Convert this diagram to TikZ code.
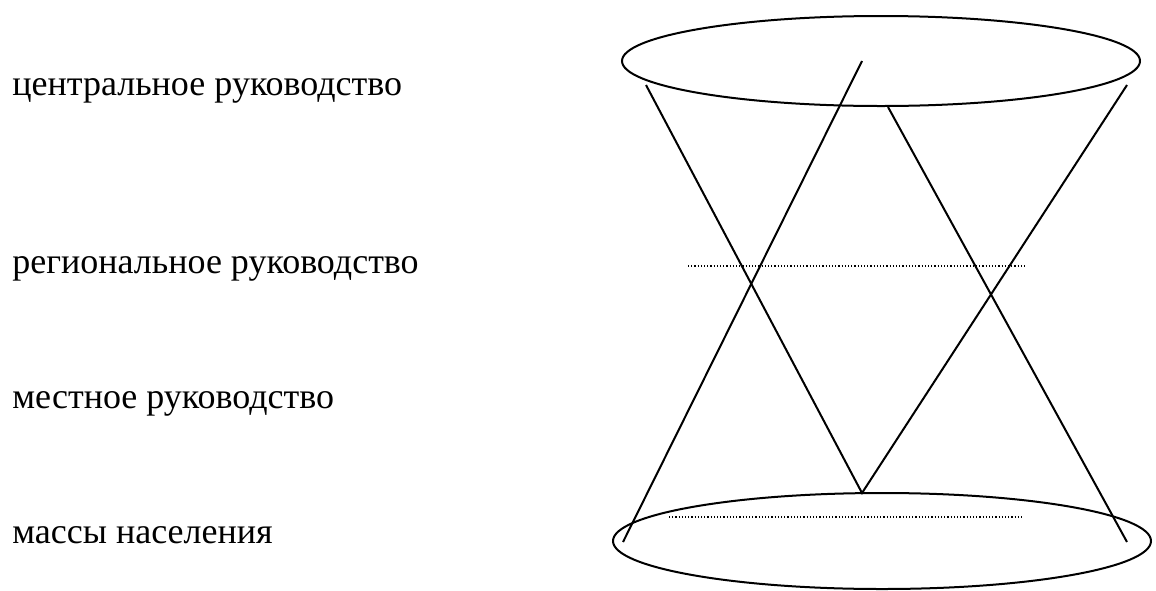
\documentclass[tikz,border=0pt]{standalone}
\usepackage{fontspec}
\setmainfont{Liberation Serif}
\usepackage{tikz}
\usetikzlibrary{positioning}

\begin{document}
\begin{tikzpicture}[x=0.5pt,y=-0.5pt,font=\fontsize{18}{21}\selectfont,
   level/.style={anchor=base west,inner sep=0pt},
   rim/.style={line width=1pt},
   edge/.style={line width=1pt},
   tier/.style={line width=0.6pt,dash pattern=on 0.6pt off 1pt}]
  \useasboundingbox (0,0) rectangle (1156,590);
  % labels of the levels
  \node[level] (lvCentral) at (12,95) {центральное руководство};
  \node[level] (lvRegion) at (12,273) {региональное руководство};
  \node[level] (lvLocal) at (12,408) {местное руководство};
  \node[level] (lvMass) at (12,543) {массы населения};
  % the two ellipses
  \draw[rim] (881,61) ellipse [x radius=259,y radius=45];
  \draw[rim] (882,541) ellipse [x radius=269,y radius=48];
  % end points of the lines
  \coordinate (topL) at (646,85);
  \coordinate (topM) at (862,61);
  \coordinate (topC) at (888,107);
  \coordinate (topR) at (1127,85);
  \coordinate (botL) at (623,542);
  \coordinate (botM) at (862,493);
  \coordinate (botR) at (1127,542);
  \draw[edge] (topL) -- (botM) -- (topR);
  \draw[edge] (botL) -- (topM);
  \draw[edge] (topC) -- (botR);
  % dotted tiers
  \coordinate (t1a) at (688,266);
  \coordinate (t1b) at (1026,266);
  \coordinate (t2a) at (669,517);
  \coordinate (t2b) at (1024,517);
  \draw[tier] (t1a) -- (t1b);
  \draw[tier] (t2a) -- (t2b);
\end{tikzpicture}
\end{document}
